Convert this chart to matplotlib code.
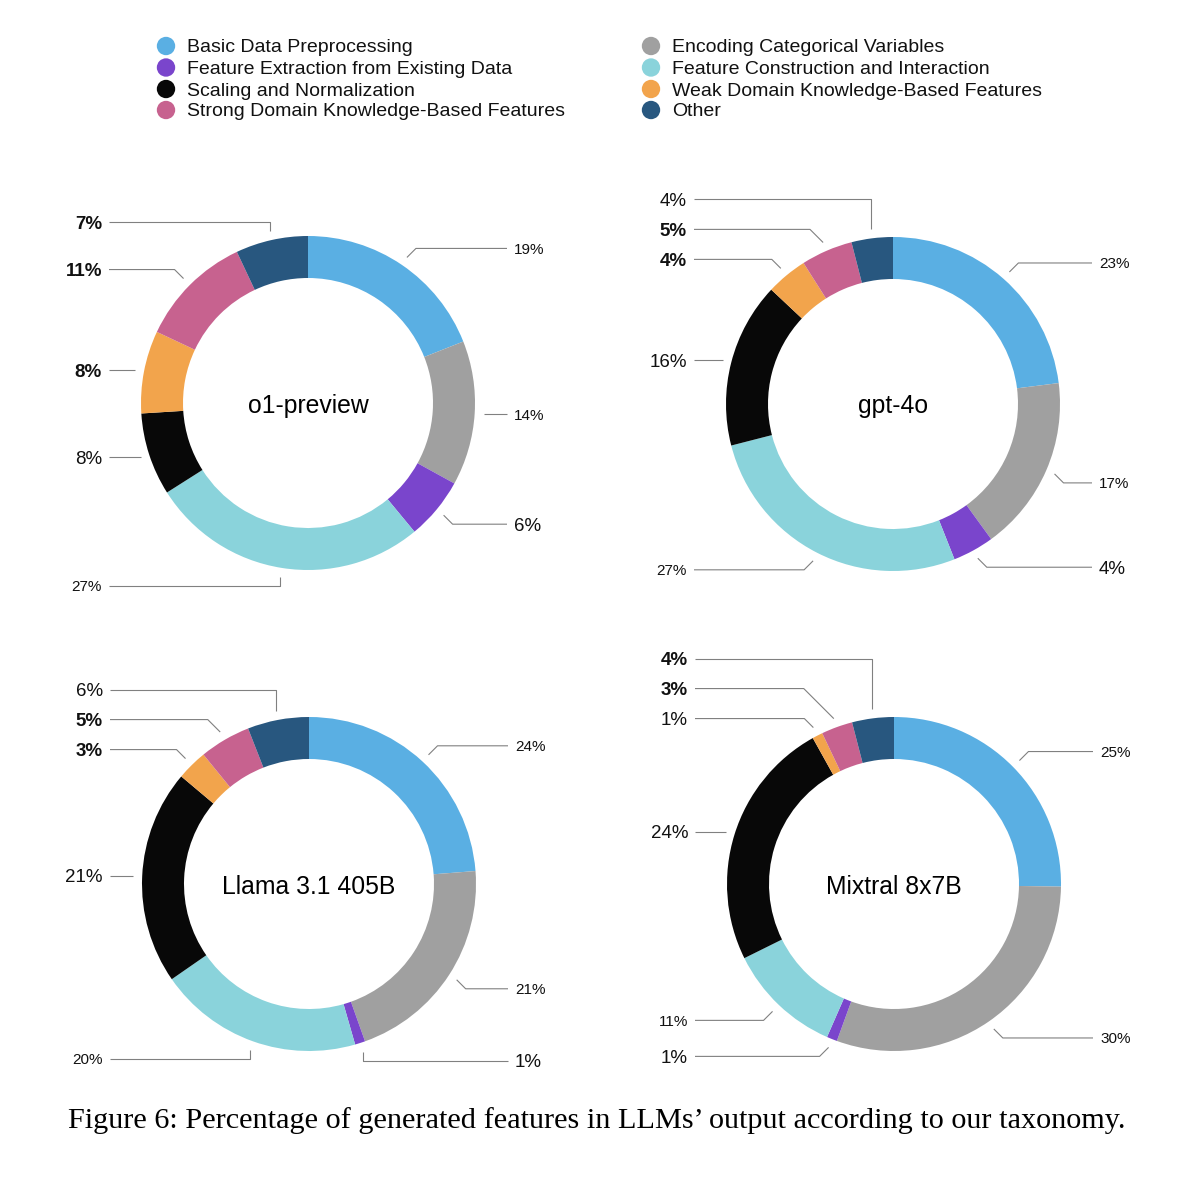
import matplotlib.pyplot as plt
import numpy as np

plt.rcParams["font.family"] = ["Liberation Sans", "DejaVu Sans"]

W, H = 1200, 1181

categories = [
    "Basic Data Preprocessing",
    "Encoding Categorical Variables",
    "Feature Extraction from Existing Data",
    "Feature Construction and Interaction",
    "Scaling and Normalization",
    "Weak Domain Knowledge-Based Features",
    "Strong Domain Knowledge-Based Features",
    "Other",
]
colors = ["#5aafe3", "#a0a0a0", "#7a45cc", "#8ad3db",
          "#080808", "#f2a44c", "#c7628f", "#28577f"]

models = ["o1-preview", "gpt-4o", "Llama 3.1 405B", "Mixtral 8x7B"]
o1_preview = [19, 14, 6, 27, 8, 8, 11, 7]
gpt_4o = [23, 17, 4, 27, 16, 4, 5, 4]
llama_405b = [24, 21, 1, 20, 21, 3, 5, 6]
mixtral_8x7b = [25, 30, 1, 11, 24, 1, 3, 4]

caption = "Figure 6: Percentage of generated features in LLMs’ output according to our taxonomy."

# label look per wedge, as in the original: s = small, l = large, b = large bold
label_styles = ["sslslbbb", "sslslbbl", "sslslbbl", "sslsllbb"]
style_font = {"s": (11, "normal"), "l": (13.5, "normal"), "b": (13.5, "bold")}

# donut centres in pixels from the top-left corner
centers = [(308, 403), (893, 404), (309, 884), (894, 884)]
R = 167
RING = 42
R_ANCHOR = 176
ELBOW = 9
GAP = 30
LINE_COLOR = "#808080"


def draw_labels(ax, values, styles, cx, cy):
    frac = np.array(values, dtype=float) / np.sum(values)
    mids = (np.cumsum(frac) - frac / 2) * 360
    items = []
    for value, theta, st in zip(values, mids, styles):
        t = np.radians(theta)
        x0 = cx + R_ANCHOR * np.sin(t)
        y0 = cy + R_ANCHOR * np.cos(t)
        off_v = min(theta % 180, 180 - theta % 180)
        off_h = abs(90 - theta % 180)
        if off_v <= 20:
            kind = "v"
        elif off_h <= 20:
            kind = "h"
        else:
            kind = "d"
        ly = y0 if kind == "h" else y0 + ELBOW * np.sign(np.cos(t))
        items.append(dict(value=value, x0=x0, y0=y0, ly=ly, kind=kind, st=st,
                          side=np.sign(np.sin(t)), top=np.cos(t) > 0))

    # spread labels that would overlap on the same side
    for side in (-1, 1):
        upper = sorted([it for it in items if it["side"] == side and it["top"]],
                       key=lambda it: it["ly"])
        for a, b in zip(upper, upper[1:]):
            b["ly"] = max(b["ly"], a["ly"] + GAP)
        lower = sorted([it for it in items if it["side"] == side and not it["top"]],
                       key=lambda it: -it["ly"])
        for a, b in zip(lower, lower[1:]):
            b["ly"] = min(b["ly"], a["ly"] - GAP)

    for it in items:
        side = it["side"]
        if it["kind"] == "d":
            ex = it["x0"] + side * abs(it["ly"] - it["y0"])
        else:
            ex = it["x0"]
        xs = [it["x0"], ex, cx + side * 199]
        ys = [it["y0"], it["ly"], it["ly"]]
        ax.plot(xs, ys, color=LINE_COLOR, lw=0.8, solid_capstyle="butt")
        size, weight = style_font[it["st"]]
        ax.text(cx + side * 206, it["ly"], f"{it['value']}%",
                ha="left" if side > 0 else "right", va="center_baseline",
                fontsize=size, fontweight=weight, color="#111111")


fig = plt.figure(figsize=(W / 100, H / 100), dpi=100)
ax = fig.add_axes([0, 0, 1, 1])

series = [o1_preview, gpt_4o, llama_405b, mixtral_8x7b]
for model, values, styles, (cx, cy_top) in zip(models, series, label_styles, centers):
    cy = H - cy_top
    ax.pie(values, colors=colors, startangle=90, counterclock=False,
           radius=R, center=(cx, cy),
           wedgeprops=dict(width=RING, linewidth=0))
    ax.text(cx, cy, model, ha="center", va="center_baseline", fontsize=17.8)
    draw_labels(ax, values, styles, cx, cy)

# legend, two columns, filled row by row
legend_x = [166, 651]
legend_y = [46, 67.5, 89, 110]
for i, (name, color) in enumerate(zip(categories, colors)):
    row, col = divmod(i, 2)
    ax.scatter(legend_x[col], H - legend_y[row], s=175, color=color,
               edgecolors="none")
    ax.text(legend_x[col] + 21, H - legend_y[row], name, va="center_baseline",
            fontsize=14, color="#111111")

fig.text((66 + 1127) / 2 / W, 1 - 1118 / H, caption, ha="center",
         va="center_baseline", fontsize=21.8, family="Liberation Serif")

ax.set_xlim(0, W)
ax.set_ylim(0, H)
ax.set_axis_off()
fig.savefig("out.png", dpi=100)
plt.close(fig)
